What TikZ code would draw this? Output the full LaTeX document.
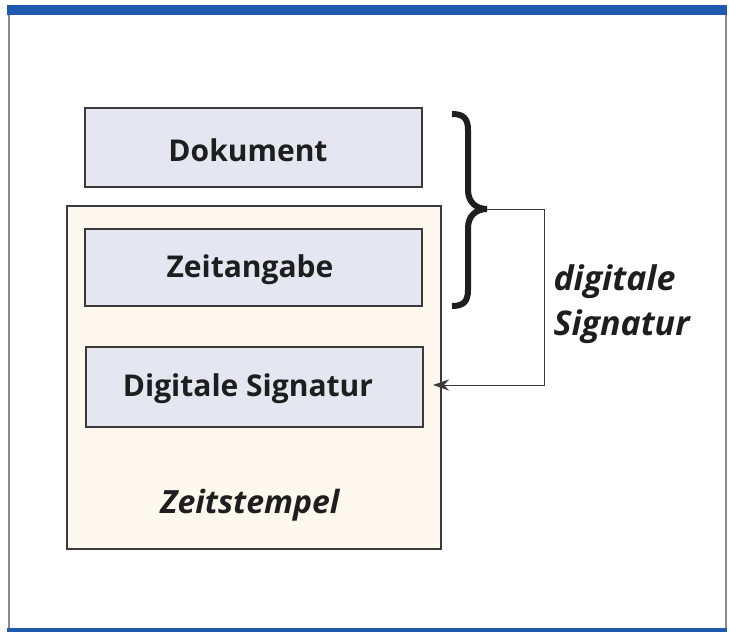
\documentclass[tikz,border=0pt]{standalone}
\usepackage{fontspec}
\setmainfont{Open Sans}
\usetikzlibrary{arrows.meta}
\definecolor{barblue}{HTML}{1F5AB0}
\definecolor{framegray}{HTML}{8A8A8A}
\definecolor{boxfill}{HTML}{E5E6F0}
\definecolor{stampfill}{HTML}{FCF8EE}
\definecolor{linegray}{HTML}{3A3A3A}
\definecolor{textdark}{HTML}{1E1E1E}
\tikzset{
  inner/.style={draw=linegray, line width=1.4pt, fill=boxfill},
  stampbox/.style={draw=linegray, line width=1.4pt, fill=stampfill},
  boxlabel/.style={font=\fontsize{30}{36}\selectfont\bfseries, text=textdark},
  italabel/.style={font=\fontsize{32}{45}\selectfont\bfseries\itshape, text=textdark},
  siglabel/.style={font=\fontsize{34}{45}\selectfont\bfseries\itshape, text=textdark},
  conn/.style={draw=linegray, line width=1pt},
}
\begin{document}
\begin{tikzpicture}[x=1pt,y=-1pt]
\useasboundingbox (0,0) rectangle (729,632);
% frame
\fill[white] (0,0) rectangle (729,632);
\draw[framegray, line width=1.2pt] (9,14) -- (9,629);
\draw[framegray, line width=1.2pt] (726,14) -- (726,629);
\fill[barblue] (7,5) rectangle (727,15);
\fill[barblue] (7,628) rectangle (727,632);
% boxes
\draw[stampbox] (67,206) rectangle (441,549);
\draw[inner] (85,108) rectangle (422,187);
\draw[inner] (85,229) rectangle (422,306);
\draw[inner] (86,347) rectangle (423,427);
\node[boxlabel] (dok) at (248,150) {Dokument};
\node[boxlabel] (zeit) at (250,270) {Zeitangabe};
\node[boxlabel] (dsig) at (248,389) {Digitale Signatur};
\node[italabel] (stamp) at (250,505) {Zeitstempel};
\coordinate (dsigE) at (433,385);
% brace
\draw[textdark, line width=6pt]
  (452,114) .. controls (463,114) and (468,118) .. (468,130)
  -- (468,190) .. controls (468,202) and (476,209) .. (487,209)
  .. controls (476,209) and (468,216) .. (468,228)
  -- (468,290) .. controls (468,302) and (463,306) .. (452,306);
\coordinate (tip) at (487,209);
\coordinate (c1) at (544,209);
\coordinate (c2) at (544,385);
\draw[conn, -{Stealth[length=16pt,width=11pt,inset=5pt]}] (tip) -- (c1) -- (c2) -- (dsigE);
\node[siglabel, anchor=west, align=left] (sig) at (550,304) {digitale\\Signatur};
\end{tikzpicture}
\end{document}
